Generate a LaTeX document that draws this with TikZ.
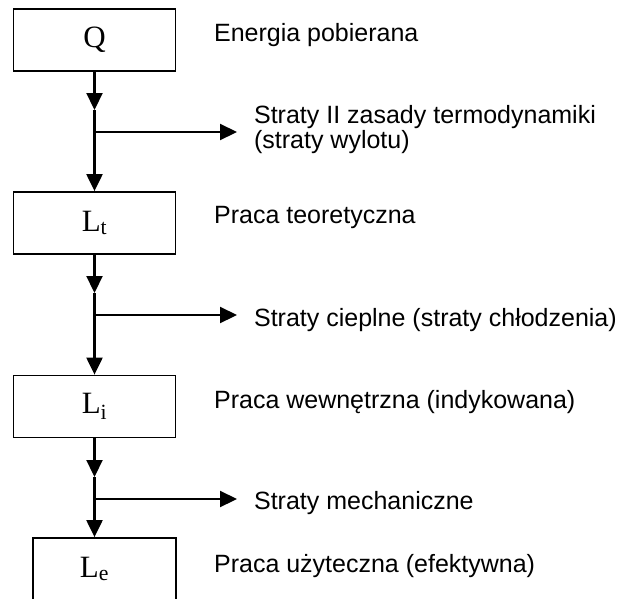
\documentclass[tikz,border=0pt]{standalone}
\usepackage{fontspec}
\setmainfont{Liberation Sans}
\newfontfamily\boxfont{Liberation Serif}
\usepackage{tikz}
\usetikzlibrary{arrows.meta,positioning,calc}
\tikzset{
  >={Triangle[length=17pt,width=16pt]},
  every picture/.style={line width=2.2pt,draw=black},
  sym/.style={inner sep=0pt,font=\boxfont\fontsize{31}{33}\selectfont},
  bx/.style={sym,draw=black,line width=1.8pt,minimum width=162pt,minimum height=62pt},
  lab/.style={anchor=base west,inner sep=0pt,align=left,font=\fontsize{25}{25}\selectfont},
  arr/.style={->,draw=black,line width=2.2pt},
}
\begin{document}
\begin{tikzpicture}[x=1pt,y=1pt]
  \useasboundingbox (0,0) rectangle (622,-598);
  % boxes
  \node[bx] (q) at (94.5,-40) {Q};
  \node[bx] (lt) at (94.5,-223) {L\textsubscript{t}};
  \node[bx] (li) at (94.5,-406.5) {L\textsubscript{i}};
  \node[bx,minimum width=143pt] (lef) at (104.5,-569) {};
  \node[sym] (le) at (94.5,-569) {L\textsubscript{e}};
  % texts on the right
  \node[lab] (qt) at (213,-41) {Energia pobierana};
  \node[lab] (s1) at (253,-148) {Straty II zasady termodynamiki\\(straty wylotu)};
  \node[lab] (ltt) at (213,-223) {Praca teoretyczna};
  \node[lab] (s2) at (253,-326) {Straty cieplne (straty chłodzenia)};
  \node[lab] (lit) at (213,-408) {Praca wewnętrzna (indykowana)};
  \node[lab] (s3) at (253,-509) {Straty mechaniczne};
  \node[lab] (let) at (213,-572) {Praca użyteczna (efektywna)};
  % flow
  \coordinate (m1) at (94.5,-110);
  \coordinate (b1) at (94.5,-132);
  \coordinate (m2) at (94.5,-293);
  \coordinate (b2) at (94.5,-315);
  \coordinate (m3) at (94.5,-477);
  \coordinate (b3) at (94.5,-499);
  \draw[arr] (q) -- (m1);
  \draw[arr] (m1) -- (lt);
  \draw[arr] (lt) -- (m2);
  \draw[arr] (m2) -- (li);
  \draw[arr] (li) -- (m3);
  \draw[arr] (m3) -- (m3 |- lef.north);
  \draw[arr,shorten >=16pt] (b1) -- (b1 -| s1.west);
  \draw[arr,shorten >=16pt] (b2) -- (b2 -| s2.west);
  \draw[arr,shorten >=16pt] (b3) -- (b3 -| s3.west);
\end{tikzpicture}
\end{document}
